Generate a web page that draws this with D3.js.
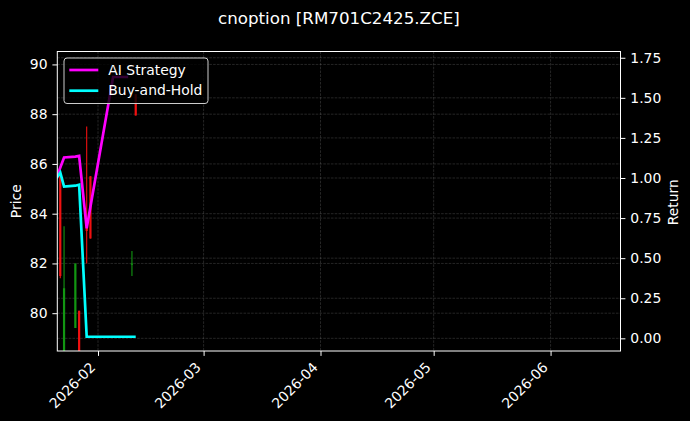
<!DOCTYPE html>
<html>
<head>
<meta charset="utf-8">
<script src="https://cdn.jsdelivr.net/npm/d3@7"></script>
<style>
  html, body { margin: 0; padding: 0; background: #000; }
  svg { display: block; }
  text { font-family: "DejaVu Sans", sans-serif; fill: #fff; }
</style>
</head>
<body>
<div class="chart"></div>
<script>
// price candles (left axis)
var candleDates = ["2026-01-22", "2026-01-23", "2026-01-26", "2026-01-27", "2026-01-29", "2026-01-30", "2026-02-10", "2026-02-11"];
var candleOpen  = [85.6, 78.3, 79.4, 80.1, 83.6, 85.5, 81.95, 88.8];
var candleHigh  = [85.6, 83.5, 82.0, 80.1, 87.5, 85.5, 82.5, 88.8];
var candleLow   = [81.4, 78.0, 79.4, 78.0, 82.0, 83.0, 81.5, 87.95];
var candleClose = [81.5, 81.0, 82.0, 78.2, 83.3, 83.0, 82.0, 87.95];

// return curves (right axis)
var aiDates  = ["2026-01-21", "2026-01-22", "2026-01-23", "2026-01-26", "2026-01-27", "2026-01-29", "2026-02-05", "2026-02-09"];
var aiReturn = [1.0, 1.065, 1.128, 1.133, 1.138, 0.686, 1.63, 1.63];
var bhDates  = ["2026-01-21", "2026-01-22", "2026-01-23", "2026-01-26", "2026-01-27", "2026-01-29", "2026-01-30", "2026-02-02", "2026-02-05", "2026-02-09", "2026-02-11"];
var bhReturn = [1.0, 1.033, 0.946, 0.952, 0.958, 0.01, 0.01, 0.01, 0.01, 0.01, 0.01];

// axes
var priceTicks  = [80, 82, 84, 86, 88, 90];
var returnTicks = [0, 0.25, 0.5, 0.75, 1, 1.25, 1.5, 1.75];
var dateTicks   = ["2026-02-01", "2026-03-01", "2026-04-01", "2026-05-01", "2026-06-01"];
var xLimits      = ["2026-01-21T05:00:00Z", "2026-06-19T13:00:00Z"];
var priceLimits  = [78.48, 90.52];
var returnLimits = [-0.079, 1.789];

var seriesNames = ["AI Strategy", "Buy-and-Hold"];
var seriesColors = ["#ff00ff", "#00ffff"];

var parseDay = d3.utcParse("%Y-%m-%d");

var W = 690, H = 421;
var margin = { top: 51.5, right: 69.5, bottom: 70, left: 57.3 },
  width = W - margin.left - margin.right,
  height = H - margin.top - margin.bottom;

var svg = d3.select(".chart")
  .append("svg")
  .attr("width", W)
  .attr("height", H)
  .style("background", "#000");

svg.append("text")
  .attr("x", margin.left + width / 2)
  .attr("y", 24)
  .attr("text-anchor", "middle")
  .style("font-size", "16.7px")
  .text("cnoption [RM701C2425.ZCE]");

var g = svg.append("g")
  .attr("transform", "translate(" + margin.left + "," + margin.top + ")");

var x = d3.scaleUtc().domain(xLimits.map(function (d) { return new Date(d); })).range([0, width]);
var yP = d3.scaleLinear().domain(priceLimits).range([height, 0]);
var yR = d3.scaleLinear().domain(returnLimits).range([height, 0]);

g.append("clipPath").attr("id", "plot-clip")
  .append("rect").attr("width", width).attr("height", height);

//grid
var grid = g.append("g")
  .attr("stroke", "#b0b0b0")
  .attr("stroke-opacity", 0.35)
  .attr("stroke-width", 0.6)
  .attr("stroke-dasharray", "2.6,1.2");

grid.selectAll(".vgrid")
  .data(dateTicks.map(parseDay))
  .enter().append("line")
  .attr("x1", function (d) { return x(d); })
  .attr("x2", function (d) { return x(d); })
  .attr("y1", 0).attr("y2", height);

grid.selectAll(".pgrid")
  .data(priceTicks)
  .enter().append("line")
  .attr("x1", 0).attr("x2", width)
  .attr("y1", function (d) { return yP(d); })
  .attr("y2", function (d) { return yP(d); });

grid.selectAll(".rgrid")
  .data(returnTicks)
  .enter().append("line")
  .attr("x1", 0).attr("x2", width)
  .attr("y1", function (d) { return yR(d); })
  .attr("y2", function (d) { return yR(d); });

var plot = g.append("g").attr("clip-path", "url(#plot-clip)");

//candles
var candles = candleDates.map(function (d, i) {
  return {
    date: parseDay(d),
    open: candleOpen[i],
    high: candleHigh[i],
    low: candleLow[i],
    close: candleClose[i]
  };
});

var candleColor = function (d) { return d.close >= d.open ? "#129612" : "#f01010"; };

plot.selectAll(".wick")
  .data(candles)
  .enter().append("line")
  .attr("class", "wick")
  .attr("x1", function (d) { return x(d.date); })
  .attr("x2", function (d) { return x(d.date); })
  .attr("y1", function (d) { return yP(d.high); })
  .attr("y2", function (d) { return yP(d.low); })
  .attr("stroke", candleColor)
  .attr("stroke-width", 1.1);

plot.selectAll(".body")
  .data(candles)
  .enter().append("line")
  .attr("class", "body")
  .attr("x1", function (d) { return x(d.date); })
  .attr("x2", function (d) { return x(d.date); })
  .attr("y1", function (d) { return yP(d.open); })
  .attr("y2", function (d) { return yP(d.close); })
  .attr("stroke", candleColor)
  .attr("stroke-width", 2.2);

//return lines
var line = d3.line()
  .x(function (d) { return x(d[0]); })
  .y(function (d) { return yR(d[1]); });

var series = [
  aiDates.map(function (d, i) { return [parseDay(d), aiReturn[i]]; }),
  bhDates.map(function (d, i) { return [parseDay(d), bhReturn[i]]; })
];

plot.selectAll(".ret")
  .data(series)
  .enter().append("path")
  .attr("class", "ret")
  .attr("d", line)
  .attr("fill", "none")
  .attr("stroke", function (d, i) { return seriesColors[i]; })
  .attr("stroke-width", 2.7)
  .attr("stroke-linejoin", "miter");

//frame
g.append("rect")
  .attr("width", width)
  .attr("height", height)
  .attr("fill", "none")
  .attr("stroke", "#fff")
  .attr("stroke-width", 1);

//axes
var tick = 4.9, pad = 4.9;

var axL = g.append("g")
  .call(d3.axisLeft(yP).tickValues(priceTicks).tickSize(tick).tickPadding(pad).tickFormat(d3.format("d")));
var axR = g.append("g")
  .attr("transform", "translate(" + width + ",0)")
  .call(d3.axisRight(yR).tickValues(returnTicks).tickSize(tick).tickPadding(pad).tickFormat(d3.format(".2f")));
var axB = g.append("g")
  .attr("transform", "translate(0," + height + ")")
  .call(d3.axisBottom(x).tickValues(dateTicks.map(parseDay)).tickSize(tick).tickFormat(d3.utcFormat("%Y-%m")));

[axL, axR, axB].forEach(function (a) {
  a.select(".domain").remove();
  a.selectAll(".tick line").attr("stroke", "#fff").attr("stroke-width", 1);
  a.selectAll(".tick text")
    .style("font-size", "13.9px")
    .style("font-family", "'DejaVu Sans', sans-serif")
    .attr("fill", "#fff");
});

axB.selectAll(".tick text")
  .attr("x", 0)
  .attr("y", 0)
  .attr("dy", 0)
  .attr("text-anchor", "end")
  .attr("transform", "translate(-2.3," + (tick + pad + 7.5) + ") rotate(-45)");

//axis labels
svg.append("text")
  .attr("transform", "translate(21," + (margin.top + height / 2) + ") rotate(-90)")
  .attr("text-anchor", "middle")
  .style("font-size", "13.9px")
  .text("Price");

svg.append("text")
  .attr("transform", "translate(678," + (margin.top + height / 2 + 1) + ") rotate(-90)")
  .attr("text-anchor", "middle")
  .style("font-size", "13.9px")
  .text("Return");

//legend
var legend = svg.append("g").attr("transform", "translate(64,58)");
legend.append("rect")
  .attr("width", 144)
  .attr("height", 45.5)
  .attr("rx", 3)
  .attr("fill", "#000")
  .attr("fill-opacity", 0.8)
  .attr("stroke", "#cccccc")
  .attr("stroke-width", 1);

var items = legend.selectAll(".item")
  .data(seriesNames)
  .enter().append("g")
  .attr("transform", function (d, i) { return "translate(0," + (12 + i * 20.7) + ")"; });

items.append("line")
  .attr("x1", 5.3).attr("x2", 34.3)
  .attr("stroke", function (d, i) { return seriesColors[i]; })
  .attr("stroke-width", 2.7);

items.append("text")
  .attr("x", 44.3)
  .attr("dy", "0.33em")
  .style("font-size", "13.9px")
  .text(function (d) { return d; });
</script>
</body>
</html>
